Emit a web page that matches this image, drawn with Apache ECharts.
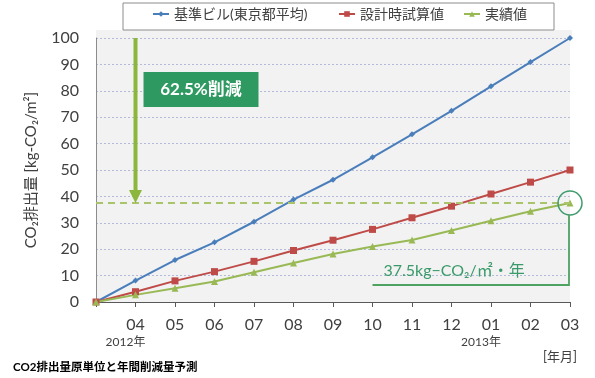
<!DOCTYPE html>
<html><head><meta charset="utf-8">
<script src="https://cdn.jsdelivr.net/npm/echarts@6/dist/echarts.min.js"></script>
<style>html,body{margin:0;padding:0;background:#fff}#c{width:595px;height:378px}</style>
</head><body><div id="c"></div>
<script>
const months = ['', '04', '05', '06', '07', '08', '09', '10', '11', '12', '01', '02', '03'];
const yearLabels = [{at: 1, text: '2012年'}, {at: 10, text: '2013年'}];
const baseline = [0, 8.1, 15.9, 22.6, 30.4, 38.8, 46.3, 54.8, 63.5, 72.4, 81.7, 90.9, 100];
const design = [0, 3.9, 8.0, 11.5, 15.4, 19.5, 23.4, 27.5, 31.9, 36.3, 40.9, 45.4, 50];
const actual = [0, 2.7, 5.2, 7.8, 11.3, 14.8, 18.2, 21.0, 23.5, 27.1, 30.8, 34.4, 37.5];
const seriesNames = ['基準ビル(東京都平均)', '設計時試算値', '実績値'];
const yMin = 0, yMax = 100, yInterval = 10;
const targetValue = 37.5;
const reductionText = '62.5%削減';
const targetText = '37.5kg−CO₂/㎡・年';
const yAxisName = 'CO₂排出量 [kg-CO₂/m²]';
const unitLabel = '[年月]';
const caption = 'CO2排出量原単位と年間削減量予測';

const FONT = "Lato, 'Noto Sans CJK JP', sans-serif";
const colors = ['#4a7ebb', '#be4b48', '#98b954'];
const chart = echarts.init(document.getElementById('c'), null, {renderer: 'canvas'});

const legendLefts = [152, 338, 463];
chart.setOption({
  animation: false,
  textStyle: {fontFamily: FONT},
  grid: {left: 96, right: 25, top: 38, bottom: 76, show: true, backgroundColor: '#f2f2f2', borderWidth: 0},
  legend: seriesNames.map((n, i) => ({
    data: [n], left: legendLefts[i], top: 7, padding: 0,
    itemWidth: 16, itemHeight: 7, itemGap: 4,
    textStyle: {fontSize: 14, color: '#404040', fontFamily: FONT}
  })),
  xAxis: {
    type: 'category', data: months, boundaryGap: false,
    axisLine: {lineStyle: {color: '#595959', width: 1}},
    axisTick: {show: true, length: 5, interval: 0, lineStyle: {color: '#595959'}},
    axisLabel: {interval: 0, fontSize: 16, color: '#404040', margin: 15, fontFamily: FONT},
    splitLine: {show: false}
  },
  yAxis: {
    type: 'value', min: yMin, max: yMax, interval: yInterval,
    name: yAxisName, nameLocation: 'middle', nameGap: 57, nameRotate: 90,
    nameTextStyle: {fontSize: 15, color: '#404040', fontFamily: FONT},
    axisLine: {show: true, lineStyle: {color: '#8c8c8c'}},
    axisTick: {show: false},
    axisLabel: {fontSize: 16, color: '#404040', margin: 17, fontFamily: FONT},
    splitLine: {lineStyle: {color: '#b3bbd9', type: [2, 2], width: 1}}
  },
  series: [
    {name: seriesNames[0], type: 'line', data: baseline, symbol: 'diamond', symbolSize: 6,
      itemStyle: {color: colors[0]}, lineStyle: {width: 2, color: colors[0]}},
    {name: seriesNames[1], type: 'line', data: design, symbol: 'rect', symbolSize: 7,
      itemStyle: {color: colors[1]}, lineStyle: {width: 2, color: colors[1]}},
    {name: seriesNames[2], type: 'line', data: actual, symbol: 'triangle', symbolSize: 7,
      itemStyle: {color: colors[2]}, lineStyle: {width: 2, color: colors[2]},
      markLine: {silent: true, symbol: 'none', label: {show: false},
        lineStyle: {color: '#a9c46a', type: [7, 5], width: 2},
        data: [{yAxis: targetValue}]}}
  ]
});

const px = (i, v) => chart.convertToPixel({gridIndex: 0}, [i, v]);
const last = months.length - 1;
const arrowX = px(1, 0)[0];
const arrowTop = px(1, yMax)[1];
const arrowTip = px(1, targetValue)[1];
const endPt = px(last, actual[last]);
const zeroY = px(0, 0)[1];
const bracketY = zeroY - 17;
const x10 = px(7, 0)[0];
const gridRight = px(last, 0)[0];

const g = [];
g.push({type: 'rect', shape: {x: 123, y: 3, width: 431, height: 27}, style: {fill: 'none', stroke: '#8c8c8c', lineWidth: 1}, z: 0});
g.push({type: 'rect', shape: {x: px(0,0)[0], y: 30, width: gridRight - px(0,0)[0] + 2, height: arrowTop - 30}, style: {fill: '#f2f2f2'}, z: -1});
// arrow
g.push({type: 'line', shape: {x1: arrowX, y1: arrowTop, x2: arrowX, y2: arrowTip - 12}, style: {stroke: '#8cb63c', lineWidth: 4}, z: 10});
g.push({type: 'polygon', shape: {points: [[arrowX - 6.5, arrowTip - 13], [arrowX + 6.5, arrowTip - 13], [arrowX, arrowTip]]}, style: {fill: '#8cb63c'}, z: 10});
// reduction box
g.push({type: 'rect', shape: {x: arrowX + 8, y: 72, width: 115, height: 35}, style: {fill: '#2e9a62'}, z: 10});
g.push({type: 'text', x: arrowX + 8 + 57.5, y: 89.5, style: {text: reductionText, fill: '#fff', font: "bold 17px " + FONT, textAlign: 'center', textVerticalAlign: 'middle'}, z: 11});
// circle
g.push({type: 'circle', shape: {cx: endPt[0], cy: endPt[1], r: 12}, style: {fill: 'none', stroke: '#3f9b6e', lineWidth: 1.5}, z: 10});
// bracket
g.push({type: 'polyline', shape: {points: [[endPt[0] - 1, endPt[1] + 12], [endPt[0] - 1, bracketY], [x10, bracketY]]}, style: {fill: 'none', stroke: '#4ea262', lineWidth: 1.8}, z: 10});
g.push({type: 'text', x: x10 + 11, y: bracketY - 14, style: {text: targetText, fill: '#3a9a6a', font: "16px " + FONT, textAlign: 'left', textVerticalAlign: 'middle'}, z: 11});
// year labels
yearLabels.forEach(y => {
  const x = px(y.at, 0)[0];
  g.push({type: 'text', x: x - 10, y: 342, style: {text: y.text, fill: '#404040', font: "12px " + FONT, textAlign: 'center', textVerticalAlign: 'middle'}});
});
g.push({type: 'text', x: gridRight - 10, y: 357, style: {text: unitLabel, fill: '#404040', font: "13px " + FONT, textAlign: 'center', textVerticalAlign: 'middle'}});
g.push({type: 'text', x: 13, y: 367, style: {text: caption, fill: '#000', font: "bold 11.5px " + FONT, textAlign: 'left', textVerticalAlign: 'middle'}});
chart.setOption({graphic: g});
</script></body></html>
